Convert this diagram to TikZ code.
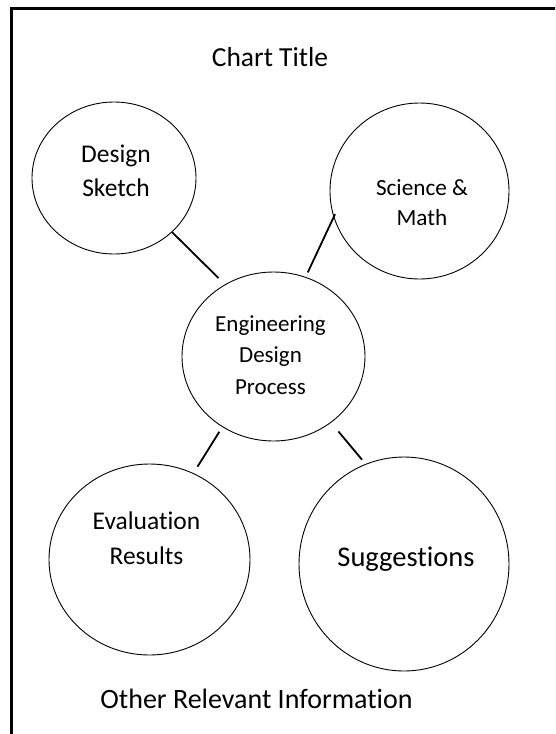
\documentclass[tikz,border=0pt]{standalone}
\usepackage{fontspec}
\setmainfont{Carlito}[Ligatures=CommonOff]
\usetikzlibrary{shapes.geometric}
\begin{document}
\begin{tikzpicture}[x=1pt,y=-1pt,
  bubble/.style={ellipse,draw,line width=0.9pt,inner sep=0pt},
  link/.style={line width=1.8pt},
  caption/.style={inner sep=0pt,anchor=base,align=center}]
  \clip (0,0) rectangle (555,734);
  \fill[white] (0,0) rectangle (555,734);
  % page frame, running off the right and bottom edges
  \draw[line width=2.6pt] (570,8.7) -- (11.3,8.7) -- (11.3,750);

  % bubbles
  \node[bubble,minimum width=164pt,minimum height=152pt] (ds) at (114,178) {};
  \node[bubble,minimum width=179pt,minimum height=176pt] (sm) at (419.5,191) {};
  \node[bubble,minimum width=183pt,minimum height=169pt] (ep) at (273.5,356.5) {};
  \node[bubble,minimum width=201pt,minimum height=191pt] (er) at (149.5,559.5) {};
  \node[bubble,minimum width=210pt,minimum height=214pt] (su) at (404,564) {};

  % texts (base anchor sits on the last line's baseline)
  \node[caption,font=\fontsize{27.5}{33}\selectfont] (title) at (270,66.7) {Chart Title};
  \node[caption,font=\fontsize{25.5}{34.7}\selectfont] (dsText) at (116,196.7) {Design\\Sketch};
  \node[caption,font=\fontsize{23.2}{30}\selectfont] (smText) at (422,225) {Science \&\\Math};
  \node[caption,font=\fontsize{23}{31.5}\selectfont] (epText) at (270.5,394) {Engineering\\Design\\Process};
  \node[caption,font=\fontsize{25.5}{35}\selectfont] (erText) at (146.5,564) {Evaluation\\Results};
  \node[caption,font=\fontsize{28.5}{34}\selectfont] (suText) at (406,566) {Suggestions};
  \node[caption,font=\fontsize{28}{34}\selectfont] (other) at (256.5,708.3) {Other Relevant Information};

  % connectors
  \draw[link,shorten >=9pt] (ds.-43.5) -- (ep.124.8);
  \draw[link,shorten <=-3.4pt,shorten >=5pt] (sm.197.8) -- (ep.68.5);
  \draw[link,shorten <=5.6pt,shorten >=7.6pt] (ep.234.6) -- (er.63);
  \draw[link,shorten <=11.4pt,shorten >=5.5pt] (ep.-49) -- (su.111.7);
\end{tikzpicture}
\end{document}
